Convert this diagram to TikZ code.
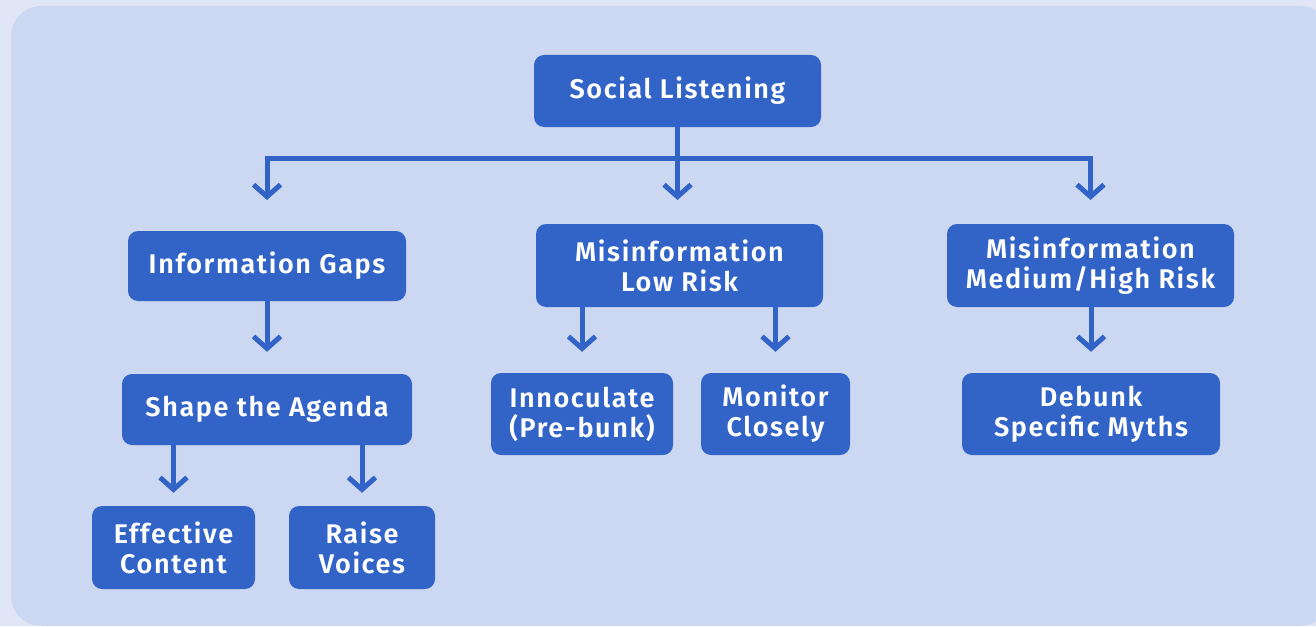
\documentclass[tikz,border=0pt]{standalone}
\usepackage{fontspec}
\setmainfont{Fira Sans}[BoldFont={Fira Sans SemiBold}, LetterSpace=6]
\usetikzlibrary{arrows.meta}

\definecolor{boxblue}{RGB}{50,100,200}
\definecolor{panelblue}{RGB}{204,216,241}
\definecolor{pageblue}{RGB}{224,230,245}

\begin{document}
\begin{tikzpicture}[x=1pt, y=-1pt,
    box/.style={
        % The shape:
        rectangle,
        rounded corners=10pt,
        % The size:
        minimum height=72pt,
        inner sep=0pt,
        % The filling
        fill=boxblue,
        % Font
        text=white,
        align=center,
        font=\bfseries\fontsize{27}{30}\selectfont
    },
    link/.style={
        draw=boxblue,
        line width=5pt,
        -{Straight Barb[length=12pt, width=27pt]}
    }]

    % background and panel
    \useasboundingbox (0,0) rectangle (1316,626);
    \fill[pageblue] (0,0) rectangle (1316,626);
    \fill[panelblue, rounded corners=30pt] (11,6) rectangle (1330,626);

    % top
    \node [box, minimum width=287pt] (social) at (677.5,91) {Social Listening};

    % second row
    \node [box, minimum width=278pt, minimum height=70pt] (gaps) at (267,266) {Information Gaps};
    \node [box, minimum width=287pt, minimum height=83pt] (low) at (679.5,265.5) {Misinformation\\Low Risk};
    \node [box, minimum width=287pt, minimum height=83pt] (high) at (1090.5,265.5) {Misinformation\\Medium/High Risk};

    % third row
    \node [box, minimum width=290pt, minimum height=71pt] (agenda) at (267,409.5) {Shape the Agenda};
    \node [box, minimum width=182pt, minimum height=82pt] (inoc) at (582,414) {Innoculate\\(Pre-bunk)};
    \node [box, minimum width=149pt, minimum height=82pt] (monitor) at (775.5,414) {Monitor\\Closely};
    \node [box, minimum width=258pt, minimum height=82pt] (debunk) at (1091,414) {Debunk\\Specific Myths};

    % fourth row
    \node [box, minimum width=163pt, minimum height=83pt] (content) at (173.5,547.5) {Effective\\Content};
    \node [box, minimum width=146pt, minimum height=83pt] (voices) at (362,547.5) {Raise\\Voices};

    % from the top
    \draw [link] (social.south) -- (social.south |- 0,200);
    \foreach \target in {gaps, high}
    {
        \draw [link] ([yshift=-31pt]social.south) -| (\target.north |- 0,200);
    }

    % lower arrows
    \foreach \from/\to/\gap in {gaps/agenda/22, low/inoc/21, low/monitor/21, high/debunk/21, agenda/content/13, agenda/voices/13}
    {
        \draw [link] (\to.north |- \from.south) -- ([yshift=\gap pt]\to.north);
    }
\end{tikzpicture}
\end{document}
